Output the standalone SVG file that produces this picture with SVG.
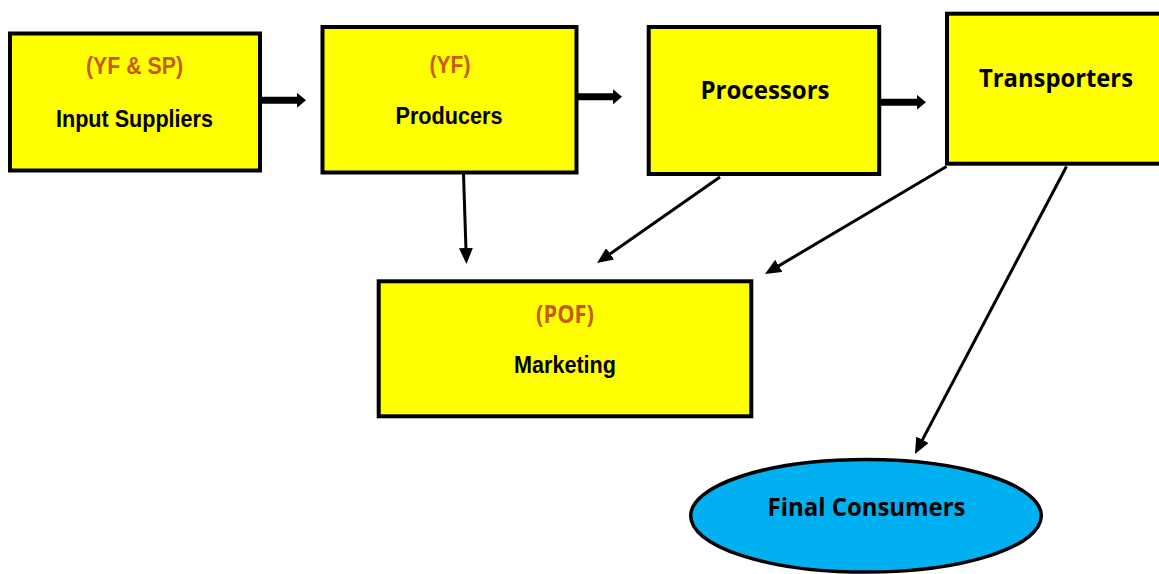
<svg xmlns="http://www.w3.org/2000/svg" width="1159" height="574" viewBox="0 0 1159 574">
  <style>
    .box { fill: #FFFF00; stroke: #000; stroke-width: 4; }
    .oval { fill: #00B0F0; stroke: #000; stroke-width: 3.5; }
    .narrow { font-family: "Liberation Sans", Arial, sans-serif; font-weight: 700; font-size: 24px; text-anchor: middle; fill: #000; }
    .humanist { font-family: "Open Sans", "Noto Sans", sans-serif; font-weight: 700; font-size: 25px; text-anchor: middle; fill: #000; }
    .tag { fill: #C55A11; }
    .thick { stroke: #000; stroke-width: 7; fill: none; }
    .thin { stroke: #000; stroke-width: 3; fill: none; }
  </style>
  <defs>
    <marker id="head-thick" markerUnits="userSpaceOnUse" viewBox="0 0 9 15" markerWidth="9" markerHeight="15" refX="1" refY="7.5" orient="auto">
      <path d="M0,0 L9,7.5 L0,15 z" fill="#000"/>
    </marker>
    <marker id="head-thin" markerUnits="userSpaceOnUse" viewBox="0 0 16 14" markerWidth="16" markerHeight="14" refX="8" refY="7" orient="auto">
      <path d="M0,0 L16,7 L0,14 z" fill="#000"/>
    </marker>
  </defs>

  <rect width="1159" height="574" fill="#fff"/>

  <!-- connectors -->
  <g id="connectors">
    <path class="thick" d="M262,100.3 L298,100.3" marker-end="url(#head-thick)"/>
    <path class="thick" d="M578,96.8 L614,96.8" marker-end="url(#head-thick)"/>
    <path class="thick" d="M881,102.3 L918,102.3" marker-end="url(#head-thick)"/>
    <path class="thin" d="M463.5,174 L466.2,256" marker-end="url(#head-thin)"/>
    <path class="thin" d="M720,177 L603.6,258.4" marker-end="url(#head-thin)"/>
    <path class="thin" d="M946.5,166.5 L771.9,269.9" marker-end="url(#head-thin)"/>
    <path class="thin" d="M1066.5,166.5 L918.7,446.9" marker-end="url(#head-thin)"/>
  </g>

  <g id="input-suppliers">
    <rect class="box" x="10" y="33.5" width="250" height="137"/>
    <text class="narrow tag" x="134.5" y="73.5" textLength="97" lengthAdjust="spacingAndGlyphs">(YF &amp; SP)</text>
    <text class="narrow" x="134.5" y="127" textLength="157" lengthAdjust="spacingAndGlyphs">Input Suppliers</text>
  </g>

  <g id="producers">
    <rect class="box" x="322.5" y="27" width="254" height="145.5"/>
    <text class="narrow tag" x="450" y="73" textLength="41" lengthAdjust="spacingAndGlyphs">(YF)</text>
    <text class="narrow" x="449" y="124" textLength="107" lengthAdjust="spacingAndGlyphs">Producers</text>
  </g>

  <g id="processors">
    <rect class="box" x="648.7" y="27" width="230.5" height="147"/>
    <text class="humanist" x="765" y="99" textLength="129" lengthAdjust="spacingAndGlyphs">Processors</text>
  </g>

  <g id="transporters">
    <rect class="box" x="947" y="13.7" width="240" height="150"/>
    <text class="humanist" x="1056" y="87" textLength="154" lengthAdjust="spacingAndGlyphs">Transporters</text>
  </g>

  <g id="marketing">
    <rect class="box" x="378.7" y="281.3" width="372.6" height="135"/>
    <text class="humanist tag" x="565" y="323" textLength="58" lengthAdjust="spacingAndGlyphs">(POF)</text>
    <text class="narrow" x="565" y="373" textLength="102" lengthAdjust="spacingAndGlyphs">Marketing</text>
  </g>

  <g id="final-consumers">
    <ellipse class="oval" cx="866" cy="515.8" rx="175.3" ry="56.3"/>
    <text class="humanist" x="866.5" y="516" textLength="198" lengthAdjust="spacingAndGlyphs">Final Consumers</text>
  </g>
</svg>
